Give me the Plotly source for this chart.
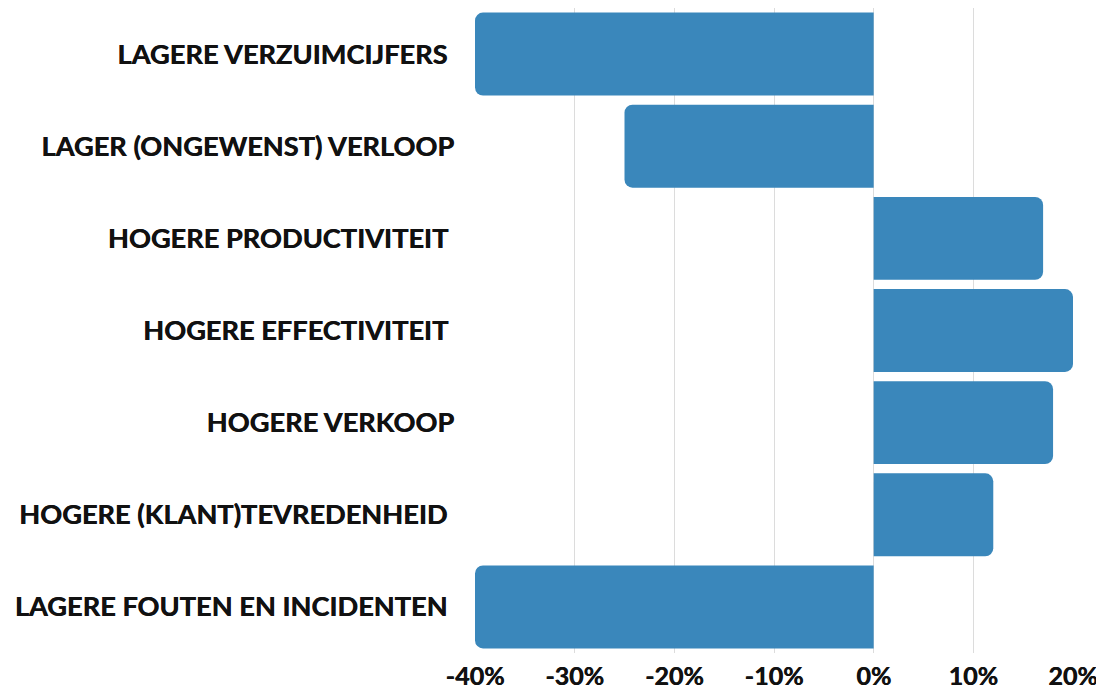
import plotly.graph_objects as go

categories = [
    "LAGERE VERZUIMCIJFERS ",
    "LAGER (ONGEWENST) VERLOOP",
    "HOGERE PRODUCTIVITEIT ",
    "HOGERE EFFECTIVITEIT ",
    "HOGERE VERKOOP",
    "HOGERE (KLANT)TEVREDENHEID ",
    "LAGERE FOUTEN EN INCIDENTEN ",
]
values = [-40, -25, 17, 20, 18, 12, -40]
tick_vals = [-40, -30, -20, -10, 0, 10, 20]
tick_text = ["-40%", "-30%", "-20%", "-10%", "0%", "10%", "20%"]

BAR_COLOR = "#3a87bb"
FONT = "Lato"
HEAVY = "0.5px 0 0 #111111"  # fakes the heavier weight of the original

fig = go.Figure(go.Bar(
    x=values,
    y=categories,
    orientation="h",
    width=0.9,
    marker=dict(color=BAR_COLOR, cornerradius=8, line=dict(width=0)),
    hovertemplate="<b>%{y}</b><br>%{x}%<extra></extra>"
))

# page body adds an 8px offset, so the figure is 1096x686
fig.update_layout(
    width=1096,
    height=686,
    template="plotly_white",
    plot_bgcolor="white",
    paper_bgcolor="white",
    margin=dict(l=467, r=31, t=0, b=41),
    showlegend=False,
    font=dict(family=FONT, size=22, color="#111111"),
)

fig.update_xaxes(
    range=[-40, 20],
    tickvals=tick_vals,
    ticktext=tick_text,
    tickfont=dict(family=FONT, size=25, color="#111111", weight="bold", shadow=HEAVY),
    showgrid=True,
    gridcolor="#dcdcdc",
    gridwidth=1,
    zeroline=False,
    showline=False,
    ticklabelstandoff=6,
    automargin=False,
)

fig.update_yaxes(
    autorange="reversed",
    tickfont=dict(family=FONT, size=27.2, color="#111111", weight="bold", shadow=HEAVY),
    showgrid=False,
    zeroline=False,
    showline=False,
    ticklabelstandoff=20,
    automargin=False,
)

fig.write_html("out.html")
